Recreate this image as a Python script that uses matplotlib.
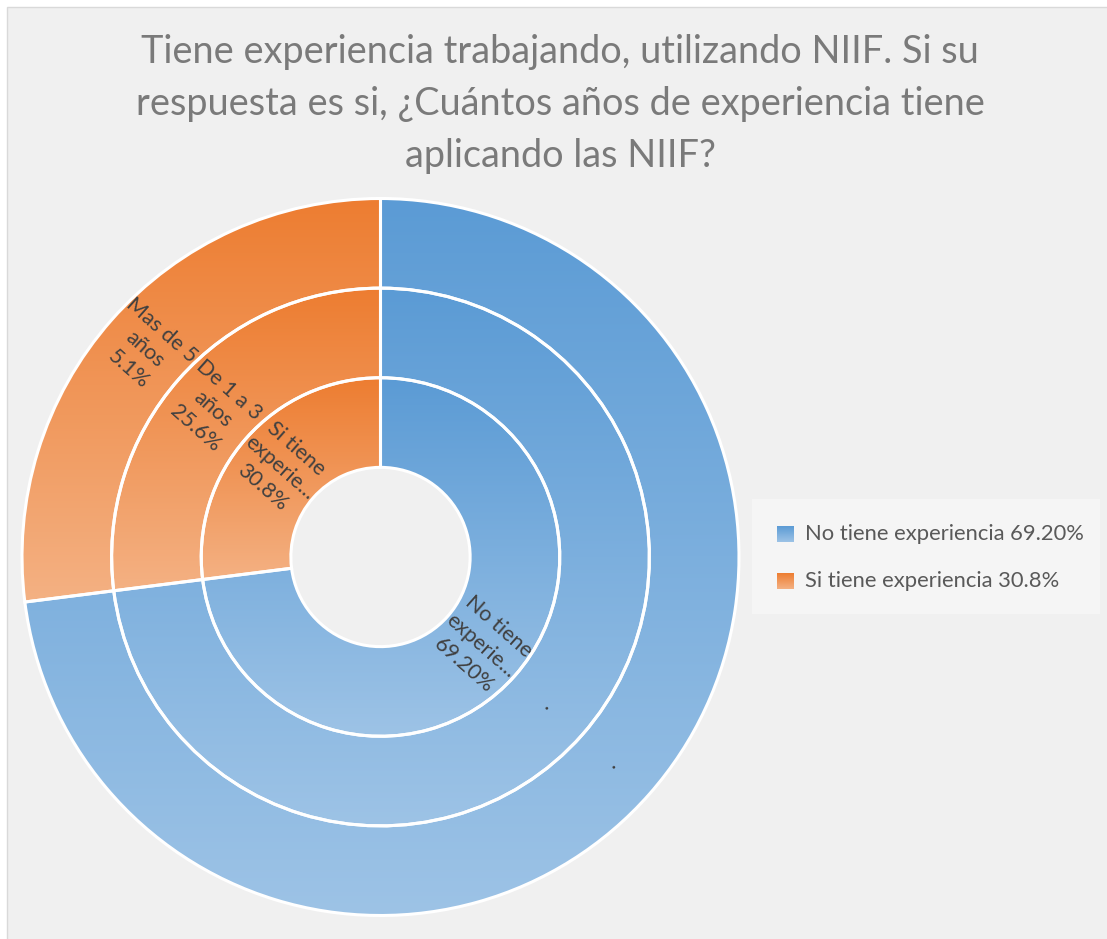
import numpy as np
import matplotlib
matplotlib.use("Agg")
import matplotlib.pyplot as plt
from matplotlib.patches import Wedge, Rectangle
from matplotlib.colors import to_rgb

# ---------------- data ----------------
categories = ["No tiene experiencia", "Si tiene experiencia"]
sizes = [69.2, 25.6]                      # leaf values that set the angular spans
legend_labels = ["No tiene experiencia 69.20%", "Si tiene experiencia 30.8%"]
ring1_labels = ["No tiene\nexperie...\n69.20%", "Si tiene\nexperie...\n30.8%"]
ring2_labels = [".", "De 1 a 3\naños\n25.6%"]
ring3_labels = [".", "Mas de 5\naños\n5.1%"]
title_lines = ["Tiene experiencia trabajando, utilizando NIIF. Si su",
               "respuesta es si, ¿Cuántos años de experiencia tiene",
               "aplicando las NIIF?"]

# ---------------- style ----------------
top_colors = ["#5b9bd5", "#ed7d31"]
bot_colors = ["#9dc3e6", "#f4b183"]
FONT = "Lato"

W, H = 1107, 939
fig = plt.figure(figsize=(W / 100, H / 100), dpi=100)
fig.patch.set_facecolor("white")
fig.patches.append(Rectangle((6.5 / W, -0.01), 1.0, 1.01 - 6.5 / H,
                             transform=fig.transFigure, facecolor="#f0f0f0",
                             edgecolor="#d9d9d9", lw=1.0, zorder=-3))

# chart axes: centre and radius in pixels
cx, cy, R = 380.5, 557.0, 358.5
pad = 1.05
ax = fig.add_axes([(cx - pad * R) / W, (H - cy - pad * R) / H,
                   2 * pad * R / W, 2 * pad * R / H])
ax.set_axis_off()
ax.patch.set_visible(False)

total = sum(sizes)
spans = [360.0 * s / total for s in sizes]
# blue goes clockwise from 12 o'clock, orange counter-clockwise
angles = [(90 - spans[0], 90.0), (90.0, 90 + spans[1])]
rings = [(0.25, 0.5, ring1_labels), (0.5, 0.75, ring2_labels), (0.75, 1.0, ring3_labels)]


def grad_img(c_top, c_bot, n=256):
    t = np.linspace(0, 1, n)[:, None]
    a = np.array(to_rgb(c_top))[None, :]
    b = np.array(to_rgb(c_bot))[None, :]
    return (a * (1 - t) + b * t)[:, None, :]


for r_in, r_out, labels in rings:
    for i, (t1, t2) in enumerate(angles):
        w = Wedge((0, 0), r_out, t1, t2, width=r_out - r_in,
                  facecolor="none", edgecolor="none")
        ax.add_patch(w)
        th = np.radians(np.linspace(t1, t2, 400))
        xs = np.concatenate([r_in * np.cos(th), r_out * np.cos(th)])
        ys = np.concatenate([r_in * np.sin(th), r_out * np.sin(th)])
        im = ax.imshow(grad_img(top_colors[i], bot_colors[i]), origin="upper",
                       extent=(xs.min(), xs.max(), ys.min(), ys.max()),
                       aspect="auto", interpolation="bilinear", zorder=1)
        im.set_clip_path(w)
        ax.add_patch(Wedge((0, 0), r_out, t1, t2, width=r_out - r_in,
                           facecolor="none", edgecolor="white", lw=2.2, zorder=2))
        mid = (t1 + t2) / 2.0
        rm = (r_in + r_out) / 2.0
        rot = mid if -90 <= mid <= 90 else mid - 180
        ax.text(rm * np.cos(np.radians(mid)), rm * np.sin(np.radians(mid)),
                labels[i], rotation=rot, rotation_mode="anchor",
                ha="center", va="center", multialignment="center",
                fontsize=15.5, family=FONT, color="#404040",
                linespacing=1.35, zorder=3)

ax.set_xlim(-pad, pad)
ax.set_ylim(-pad, pad)
ax.set_aspect("equal")

# ---------------- title ----------------
title_baselines = [63, 115, 167]
for line, yb in zip(title_lines, title_baselines):
    fig.text(560 / W, 1 - yb / H, line, ha="center", va="baseline",
             fontsize=27.3, family=FONT, color="#7a7a7a")

# ---------------- legend ----------------
fig.patches.append(Rectangle((752 / W, 1 - 614 / H), 348 / W, 115 / H,
                             transform=fig.transFigure, facecolor="#f5f5f5",
                             edgecolor="none", zorder=-2))
row_y = [534, 581]
for i, lab in enumerate(legend_labels):
    mk = fig.add_axes([777 / W, 1 - (row_y[i] + 8) / H, 17 / W, 16 / H])
    mk.imshow(grad_img(top_colors[i], bot_colors[i]), aspect="auto",
              interpolation="bilinear")
    mk.set_axis_off()
    fig.text(805 / W, 1 - row_y[i] / H, lab, ha="left", va="center",
             fontsize=15.8, family=FONT, color="#595959")

fig.savefig("out.png", dpi=100, facecolor=fig.get_facecolor())
